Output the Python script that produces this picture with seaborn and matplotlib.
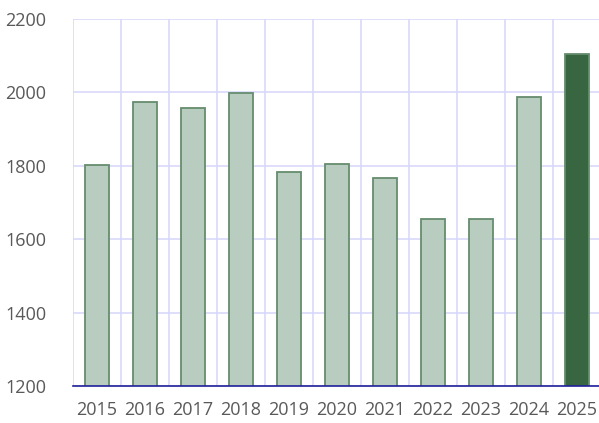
import matplotlib
matplotlib.use("Agg")
import matplotlib.pyplot as plt
import seaborn as sns
import numpy as np

years = ["2015", "2016", "2017", "2018", "2019", "2020", "2021", "2022", "2023", "2024", "2025"]
values = [1803, 1975, 1957, 1998, 1783, 1805, 1767, 1655, 1655, 1987, 2105]
y_ticks = [1200, 1400, 1600, 1800, 2000, 2200]

light = "#b8cdc0"
dark = "#386641"
edge = "#668c6e"
grid_col = "#d6d6fa"
text_col = "#595959"

sns.set_style("white")
plt.rcParams["font.family"] = ["Open Sans", "DejaVu Sans"]

fig = plt.figure(figsize=(5.99, 4.23), dpi=100)
ax = fig.add_axes([73 / 599, 1 - 386 / 423, 528 / 599, 367 / 423])

colors = [light] * (len(years) - 1) + [dark]
sns.barplot(x=years, y=values, hue=years, palette=colors, legend=False,
            saturation=1, width=0.5, edgecolor=edge, linewidth=1.3, ax=ax, zorder=3)

ax.set_ylim(1200, 2200)
ax.set_xlim(-0.5, len(years) - 0.5)
ax.set_yticks(y_ticks)
ax.set_xticks(range(len(years)))
ax.set_xticks(np.arange(-0.5, len(years), 1.0), minor=True)

ax.grid(False)
ax.yaxis.grid(True, color=grid_col, linewidth=1.1, zorder=0)
ax.xaxis.grid(True, which="minor", color=grid_col, linewidth=1.1, zorder=0)
ax.set_axisbelow(True)

for s in ["top", "right", "left"]:
    ax.spines[s].set_visible(False)
ax.spines["bottom"].set_color("#1f1f9a")
ax.spines["bottom"].set_linewidth(1.2)
ax.spines["bottom"].set_zorder(4)

ax.tick_params(axis="both", which="both", length=0, colors=text_col, labelsize=13)
ax.tick_params(axis="y", pad=19)
ax.tick_params(axis="x", pad=11)
ax.set_xlabel("")
ax.set_ylabel("")

fig.savefig("out.png", dpi=100)
